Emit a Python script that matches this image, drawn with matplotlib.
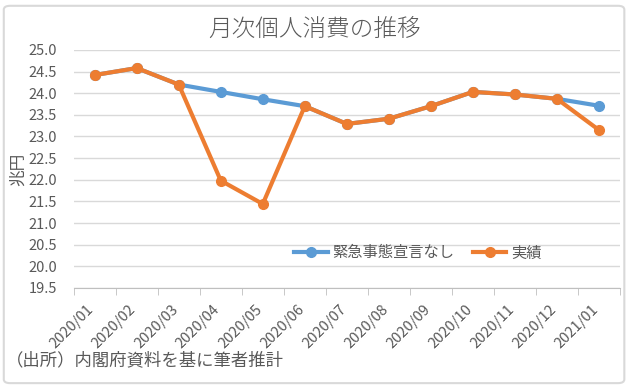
import numpy as np
import matplotlib.pyplot as plt
import matplotlib.transforms as mtransforms
from matplotlib.patches import FancyBboxPatch

plt.rcParams['font.family'] = ['Noto Sans CJK JP', 'DejaVu Sans']

months = ['2020/01', '2020/02', '2020/03', '2020/04', '2020/05', '2020/06', '2020/07',
          '2020/08', '2020/09', '2020/10', '2020/11', '2020/12', '2021/01']
no_emergency = [24.42, 24.58, 24.2, 24.03, 23.86, 23.7, 23.29, 23.41, 23.7, 24.03, 23.97, 23.87, 23.71]
actual = [24.42, 24.58, 24.2, 21.98, 21.44, 23.7, 23.29, 23.41, 23.7, 24.03, 23.97, 23.87, 23.15]

BLUE = '#5B9BD5'
ORANGE = '#ED7D31'
TEXT = '#595959'


def main():
    fig = plt.figure(figsize=(6.3, 3.87), dpi=100)
    ax = fig.add_axes([0.117, 0.256, 0.867, 0.615])

    x = np.arange(len(months))
    ax.plot(x, no_emergency, color=BLUE, lw=3, marker='o', ms=7, label='緊急事態宣言なし', zorder=3)
    ax.plot(x, actual, color=ORANGE, lw=3, marker='o', ms=7, label='実績', zorder=4)

    ax.set_xlim(-0.5, len(months) - 0.5)
    ax.set_ylim(19.5, 25.0)
    yt = np.arange(19.5, 25.01, 0.5)
    ax.set_yticks(yt)
    ax.set_yticklabels([f'{v:.1f}' for v in yt], fontsize=10.5, color=TEXT)
    ax.tick_params(axis='y', length=0, pad=12)
    ax.grid(axis='y', color='#D9D9D9', lw=1)
    ax.set_axisbelow(True)

    ax.set_xticks(np.arange(-0.5, len(months)), minor=True)
    ax.tick_params(axis='x', which='minor', length=5, color='#BFBFBF', direction='out')
    ax.set_xticks(x)
    ax.tick_params(axis='x', which='major', length=0, pad=14)
    ax.set_xticklabels(months, rotation=45, ha='right', va='center', rotation_mode='anchor',
                       fontsize=10.5, color=TEXT)
    # nudge the rotated labels (after tick_params, which resets transforms)
    offset = mtransforms.ScaledTranslation(-0.03, 0, fig.dpi_scale_trans)
    for lab in ax.get_xticklabels():
        lab.set_transform(lab.get_transform() + offset)

    for s in ['top', 'right', 'left']:
        ax.spines[s].set_visible(False)
    ax.spines['bottom'].set_color('#BFBFBF')

    ax.set_ylabel('兆円', fontsize=12, color=TEXT)
    ax.yaxis.set_label_coords(-0.085, 0.5)

    ax.legend(loc='center', bbox_to_anchor=(0.63, 0.147), ncol=2, frameon=False,
              fontsize=11, labelcolor=TEXT, handlelength=2.2, columnspacing=1.2,
              handletextpad=0.3)

    fig.text(0.5, 0.925, '月次個人消費の推移', ha='center', va='center', fontsize=17,
             fontweight='light', color=TEXT)
    fig.text(0.01, 0.068, '（出所）内閣府資料を基に筆者推計', ha='left', va='center',
             fontsize=12.5, color=TEXT)

    border = FancyBboxPatch((0.006, 0.01), 0.985, 0.975, boxstyle='round,pad=0,rounding_size=0.01',
                            transform=fig.transFigure, fill=False, ec='#D9D9D9', lw=1.5)
    fig.patches.append(border)

    fig.savefig('out.png', dpi=100)


if __name__ == '__main__':
    main()
